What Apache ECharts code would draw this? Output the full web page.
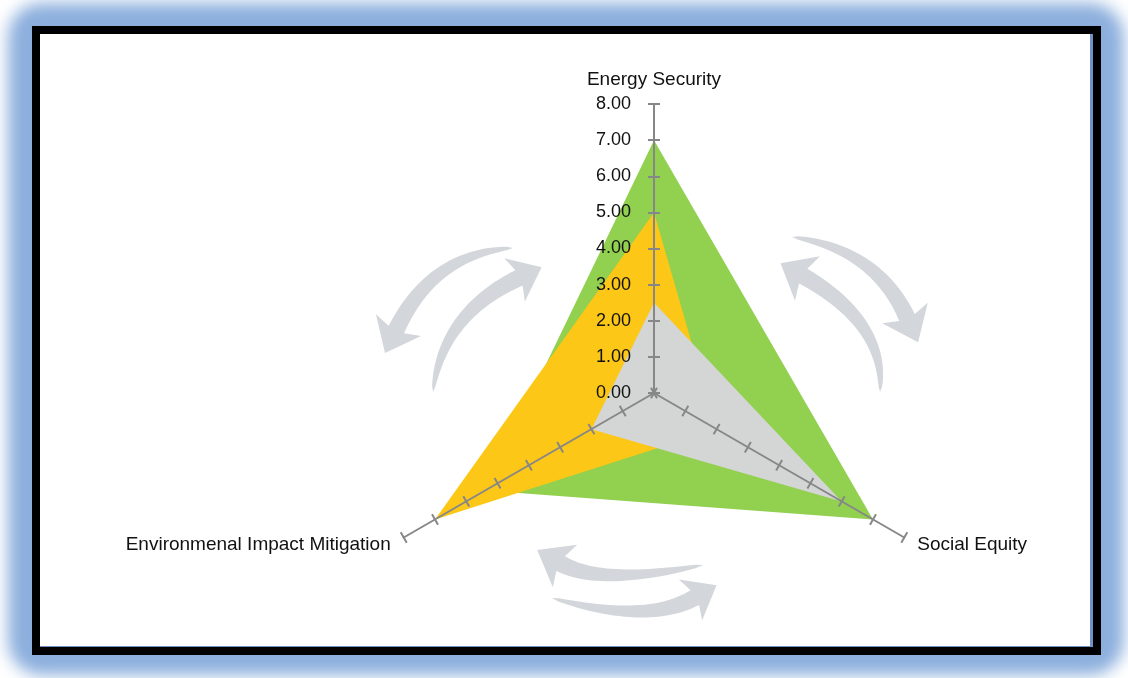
<!DOCTYPE html>
<html>
<head>
<meta charset="utf-8">
<title>Energy Trilemma</title>
<script src="https://cdn.jsdelivr.net/npm/echarts@6/dist/echarts.min.js"></script>
<style>
  html, body { margin: 0; padding: 0; width: 1128px; height: 678px; background: #ffffff; overflow: hidden; }
  #glow {
    position: absolute; left: 8px; top: 3px; width: 1116px; height: 672px;
    background: #8cafdd; border-radius: 34px; filter: blur(8px);
  }
  #frame {
    position: absolute; left: 32px; top: 26px; width: 1053px; height: 613px;
    border: 8px solid #000; background: #fff;
    box-shadow: inset -3px -1px 0 #6f93c6;
  }
  #chart { position: absolute; left: 0; top: 0; width: 1128px; height: 678px; }
</style>
</head>
<body>
<div id="glow"></div>
<div id="frame"></div>
<div id="chart"></div>
<script>
// Dimensions of the trilemma (radar order: top, lower-left, lower-right)
const dimensions = ['Energy Security', 'Environmenal Impact Mitigation', 'Social Equity'];
const scaleMax = 8;

// Scores per profile, in the order of `dimensions`
const greenScores = [7, 5.4, 7];
const yellowScores = [5, 7, 2];
const greyScores = [2.5, 2, 6];

const profileColors = ['#92d050', '#fcc716', '#d4d5d5'];

const FONT = '"Liberation Sans", Arial, sans-serif';
const AXIS_GREY = '#878787';
const CX = 654, CY = 393, R = 289;

// Curved double-arrow ornaments around the radar (tail, control, head base, head sizes)
const ornamentArrows = [
  { tail: [513, 248], ctrl: [433, 253], base: [398.5, 325], dir: [-0.435, 0.903], tip: 31, half: 25 },
  { tail: [433, 392], ctrl: [442, 314], base: [514.5, 280], dir: [0.904, -0.428], tip: 30, half: 24 },
  { tail: [792, 237], ctrl: [876, 249], base: [905, 313], dir: [0.409, 0.912], tip: 32, half: 25 },
  { tail: [880, 392], ctrl: [886, 323], base: [807.5, 278.5], dir: [-0.870, -0.491], tip: 31, half: 25.5 },
  { tail: [703, 565], ctrl: [600, 586], base: [565, 566], dir: [-0.869, -0.497], tip: 32, half: 24.5 },
  { tail: [552, 598], ctrl: [647, 625], base: [690.5, 600], dir: [0.869, -0.492], tip: 30, half: 23.5 }
];

function arrowPolygon(a) {
  const sweep = 5, bodyHalf = 8.5, steps = 28;
  const d = a.dir;
  const n = [-d[1], d[0]];
  const B = [a.base[0] + d[0] * sweep, a.base[1] + d[1] * sweep];
  const T = a.tail, C = a.ctrl;
  const left = [], right = [];
  for (let i = 0; i <= steps; i++) {
    const t = i / steps, u = 1 - t;
    const px = u * u * T[0] + 2 * u * t * C[0] + t * t * B[0];
    const py = u * u * T[1] + 2 * u * t * C[1] + t * t * B[1];
    let dx = 2 * u * (C[0] - T[0]) + 2 * t * (B[0] - C[0]);
    let dy = 2 * u * (C[1] - T[1]) + 2 * t * (B[1] - C[1]);
    const len = Math.hypot(dx, dy) || 1;
    dx /= len; dy /= len;
    const w = bodyHalf * Math.pow(t, 0.5);
    left.push([px - dy * w, py + dx * w]);
    right.push([px + dy * w, py - dx * w]);
  }
  const tipPt = [B[0] + d[0] * (a.tip - sweep), B[1] + d[1] * (a.tip - sweep)];
  const wingA = [a.base[0] + n[0] * a.half, a.base[1] + n[1] * a.half];
  const wingB = [a.base[0] - n[0] * a.half, a.base[1] - n[1] * a.half];
  // choose wing order so the outline does not cross itself
  const lastL = left[left.length - 1];
  const dA = Math.hypot(lastL[0] - wingA[0], lastL[1] - wingA[1]);
  const dB = Math.hypot(lastL[0] - wingB[0], lastL[1] - wingB[1]);
  const w1 = dA < dB ? wingA : wingB, w2 = dA < dB ? wingB : wingA;
  return left.concat([w1, tipPt, w2], right.reverse());
}

const chart = echarts.init(document.getElementById('chart'), null, { renderer: 'canvas' });

const radarBase = {
  center: [CX, CY],
  radius: R,
  startAngle: 90,
  shape: 'polygon',
  splitNumber: scaleMax,
  z: 10,
  splitLine: { show: false },
  splitArea: { show: false },
  axisLabel: { show: false }
};

chart.setOption({
  backgroundColor: 'transparent',
  animation: false,
  graphic: ornamentArrows.map(a => ({
    type: 'polygon',
    shape: { points: arrowPolygon(a) },
    style: { fill: '#d3d6db' },
    z: 0,
    silent: true
  })),
  grid: { left: CX, top: CY - R, width: 10, height: R, z: 10 },
  xAxis: { type: 'value', show: false },
  yAxis: {
    type: 'value',
    z: 10,
    min: 0,
    max: scaleMax,
    interval: 1,
    axisLine: { show: false },
    axisTick: { show: false },
    splitLine: { show: false },
    axisLabel: {
      formatter: v => v.toFixed(2),
      fontSize: 18,
      fontFamily: FONT,
      color: '#111',
      margin: 23
    }
  },
  radar: [
    // main axes: lines, names and ticks on one side
    Object.assign({}, radarBase, {
      indicator: dimensions.map(name => ({ name, min: 0, max: scaleMax })),
      nameGap: 15,
      axisName: { color: '#111', fontSize: 19, fontFamily: FONT },
      axisLine: { lineStyle: { color: AXIS_GREY, width: 2 } },
      axisTick: { show: true, length: 6, lineStyle: { color: AXIS_GREY, width: 2 } }
    }),
    // same axes again, ticks pointing to the other side so they cross the line
    Object.assign({}, radarBase, {
      indicator: dimensions.map(() => ({ name: '', min: 0, max: scaleMax })),
      axisName: { show: false },
      axisLine: { show: false },
      axisTick: { show: true, length: -6, lineStyle: { color: AXIS_GREY, width: 2 } }
    })
  ],
  series: [{
    type: 'radar',
    radarIndex: 0,
    symbol: 'none',
    z: 1,
    lineStyle: { width: 0 },
    data: [greenScores, yellowScores, greyScores].map((vals, i) => ({
      value: vals,
      lineStyle: { width: 0, color: profileColors[i] },
      areaStyle: { color: profileColors[i], opacity: 1 },
      itemStyle: { color: profileColors[i] }
    }))
  }]
});
</script>
</body>
</html>
